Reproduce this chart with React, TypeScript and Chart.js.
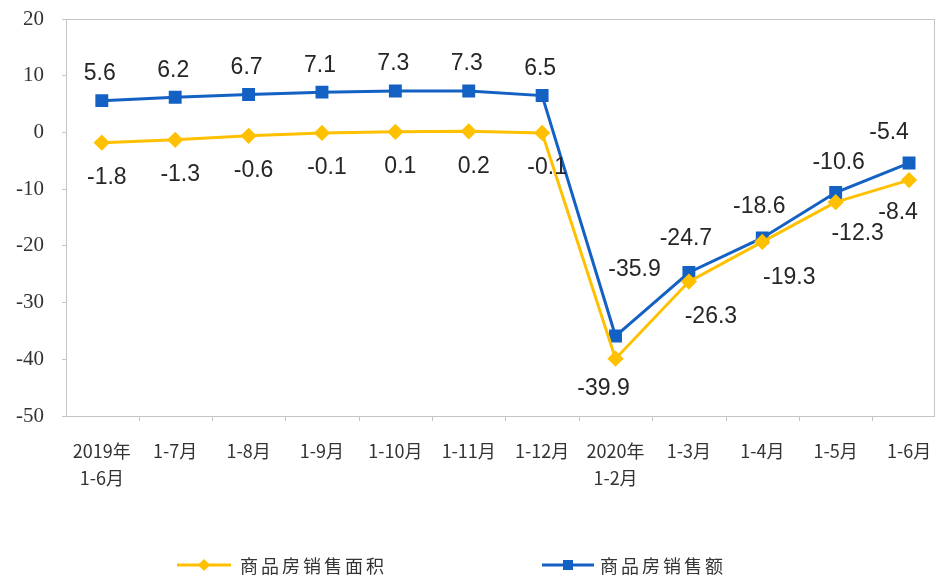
import React, { useEffect, useRef } from "react";
import { Chart, registerables } from "chart.js";

Chart.register(...registerables);

const categories: string[][] = [
  ["2019年", "1-6月"],
  ["1-7月"],
  ["1-8月"],
  ["1-9月"],
  ["1-10月"],
  ["1-11月"],
  ["1-12月"],
  ["2020年", "1-2月"],
  ["1-3月"],
  ["1-4月"],
  ["1-5月"],
  ["1-6月"],
];

const areaName = "商品房销售面积";
const amountName = "商品房销售额";
const areaValues = [-1.8, -1.3, -0.6, -0.1, 0.1, 0.2, -0.1, -39.9, -26.3, -19.3, -12.3, -8.4];
const amountValues = [5.6, 6.2, 6.7, 7.1, 7.3, 7.3, 6.5, -35.9, -24.7, -18.6, -10.6, -5.4];

const yMin = -50;
const yMax = 20;
const yStep = 10;

const BLUE = "#1461C4";
const YELLOW = "#FFC000";

// label nudges (dx, dy) relative to each point, like manual Excel label placement
const amountLabelNudge: Record<number, [number, number]> = {
  7: [19, -66],
  8: [-3, -34],
  9: [-3, -31],
  10: [3, -30],
  11: [-20, -30],
};
const areaLabelNudge: Record<number, [number, number]> = {
  7: [-12, 30],
  8: [22, 35],
  9: [27, 36],
  10: [22, 31],
  11: [-11, 33],
};

const labelPlugin = {
  id: "valueLabels",
  afterDatasetsDraw(chart: any) {
    const ctx = chart.ctx;
    ctx.save();
    ctx.font = "23px 'Liberation Sans', Arial, sans-serif";
    ctx.fillStyle = "#262626";
    ctx.textAlign = "center";
    ctx.textBaseline = "middle";
    chart.data.datasets.forEach((ds: any, di: number) => {
      const meta = chart.getDatasetMeta(di);
      const isAmount = ds.label === amountName;
      meta.data.forEach((pt: any, i: number) => {
        const v = ds.data[i].y;
        let dx = isAmount ? -2 : 5;
        let dy = isAmount ? -27 : 35;
        const nudge = isAmount ? amountLabelNudge[i] : areaLabelNudge[i];
        if (nudge) {
          dx = nudge[0];
          dy = nudge[1];
        }
        ctx.fillText(v.toFixed(1), pt.x + dx, pt.y + dy);
      });
    });
    ctx.restore();
  },
};

const framePlugin = {
  id: "frame",
  beforeDatasetsDraw(chart: any) {
    const { ctx, chartArea } = chart;
    const x = chart.scales.x;
    ctx.save();
    ctx.strokeStyle = "#C4C4C4";
    ctx.lineWidth = 1;
    ctx.strokeRect(
      Math.round(chartArea.left) + 0.5,
      Math.round(chartArea.top) + 0.5,
      Math.round(chartArea.right - chartArea.left),
      Math.round(chartArea.bottom - chartArea.top)
    );
    // category boundary tick marks below x axis
    ctx.beginPath();
    for (let i = 0; i < categories.length; i++) {
      const px = Math.round(x.getPixelForValue(i + 0.5)) + 0.5;
      if (px > chartArea.right - 2) continue;
      ctx.moveTo(px, chartArea.bottom);
      ctx.lineTo(px, chartArea.bottom + 5);
    }
    ctx.stroke();
    ctx.restore();
  },
};

const legendPlugin = {
  id: "customLegend",
  afterDraw(chart: any) {
    const ctx = chart.ctx;
    const y = 565;
    const items = [
      { name: areaName, color: YELLOW, style: "diamond", x0: 177, x1: 231, tx: 240 },
      { name: amountName, color: BLUE, style: "square", x0: 542, x1: 594, tx: 600 },
    ];
    ctx.save();
    items.forEach((it) => {
      ctx.strokeStyle = it.color;
      ctx.fillStyle = it.color;
      ctx.lineWidth = 3;
      ctx.beginPath();
      ctx.moveTo(it.x0, y);
      ctx.lineTo(it.x1, y);
      ctx.stroke();
      const cx = (it.x0 + it.x1) / 2;
      ctx.beginPath();
      if (it.style === "diamond") {
        ctx.moveTo(cx, y - 6);
        ctx.lineTo(cx + 6, y);
        ctx.lineTo(cx, y + 6);
        ctx.lineTo(cx - 6, y);
        ctx.closePath();
      } else {
        ctx.rect(cx - 5, y - 5, 10, 10);
      }
      ctx.fill();
      ctx.fillStyle = "#333333";
      ctx.font = "18px 'Noto Sans CJK SC', sans-serif";
      (ctx as any).letterSpacing = "3px";
      ctx.textAlign = "left";
      ctx.textBaseline = "middle";
      ctx.fillText(it.name, it.tx, y + 1);
      (ctx as any).letterSpacing = "0px";
    });
    ctx.restore();
  },
};

export default function App() {
  const ref = useRef<HTMLCanvasElement | null>(null);

  useEffect(() => {
    if (!ref.current) return;
    const toPoints = (vals: number[]) => vals.map((v, i) => ({ x: i, y: v }));
    const chart = new Chart(ref.current, {
      type: "line",
      data: {
        datasets: [
          {
            label: areaName,
            data: toPoints(areaValues),
            borderColor: YELLOW,
            backgroundColor: YELLOW,
            borderWidth: 3,
            pointStyle: "rectRot",
            pointRadius: 6,
            pointHoverRadius: 6,
            tension: 0,
          },
          {
            label: amountName,
            data: toPoints(amountValues),
            borderColor: BLUE,
            backgroundColor: BLUE,
            borderWidth: 3,
            pointStyle: "rect",
            pointRadius: 7,
            pointHoverRadius: 7,
            tension: 0,
          },
        ],
      },
      options: {
        animation: false,
        responsive: false,
        layout: { padding: { top: 19, right: 6, left: 0, bottom: 0 } },
        plugins: {
          legend: { display: false },
          tooltip: { enabled: false },
        },
        scales: {
          x: {
            type: "linear",
            min: -0.488,
            max: 11.34,
            afterBuildTicks: (scale: any) => {
              scale.ticks = categories.map((_, i) => ({ value: i }));
            },
            afterFit: (scale: any) => {
              scale.height = 163;
              scale.paddingLeft = 0;
              scale.paddingRight = 0;
            },
            ticks: {
              autoSkip: false,
              maxRotation: 0,
              minRotation: 0,
              padding: 21.5,
              color: "#333333",
              font: { family: "'Noto Sans CJK SC', sans-serif", size: 18, lineHeight: 1.5 },
              callback: (_v: any, i: number) => categories[i],
            },
            grid: { display: false, drawTicks: false },
            border: { display: false },
          },
          y: {
            min: yMin,
            max: yMax,
            afterFit: (scale: any) => {
              scale.width = 66;
              scale.paddingTop = 0;
              scale.paddingBottom = 0;
            },
            ticks: {
              stepSize: yStep,
              padding: 18,
              color: "#333333",
              font: { family: "'Liberation Serif', 'Times New Roman', serif", size: 21 },
            },
            grid: {
              drawOnChartArea: false,
              drawTicks: true,
              tickLength: 4,
              color: "#C4C4C4",
            },
            border: { display: false },
          },
        },
      },
      plugins: [framePlugin, labelPlugin, legendPlugin],
    });
    return () => chart.destroy();
  }, []);

  return (
    <div style={{ position: "absolute", left: 0, top: 0, width: 944, height: 579, background: "#fff" }}>
      <canvas ref={ref} width={944} height={579} />
    </div>
  );
}
